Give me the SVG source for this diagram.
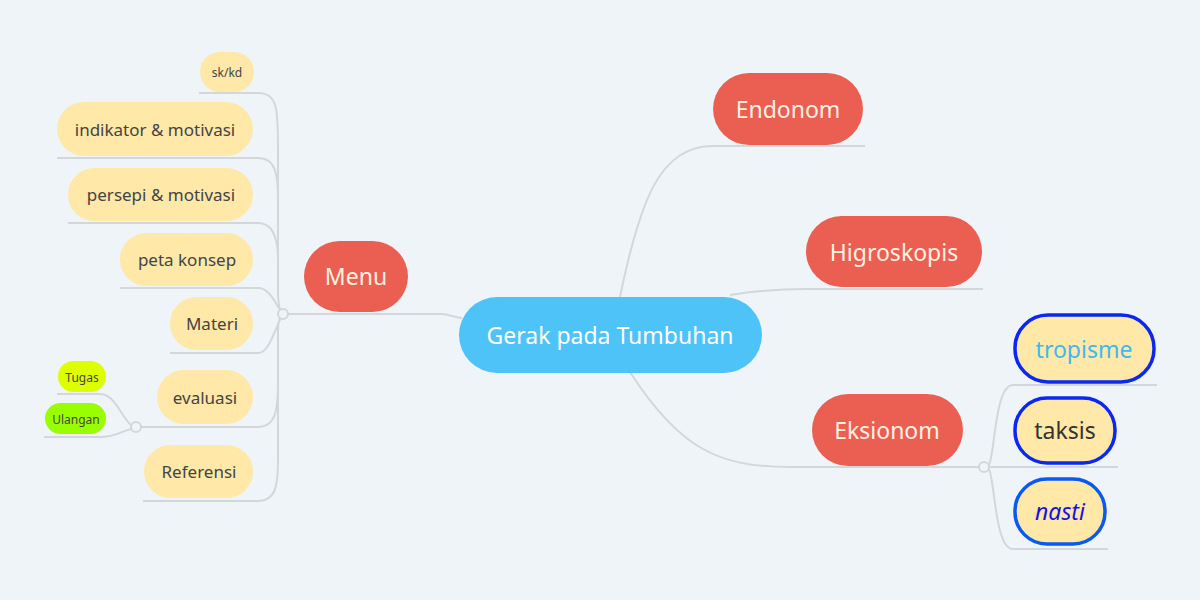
<svg xmlns="http://www.w3.org/2000/svg" width="1200" height="600" viewBox="0 0 1200 600">
<style>
text{font-family:"Noto Sans","Liberation Sans",sans-serif;text-anchor:middle;dominant-baseline:central}
.c{fill:none;stroke:#D3D7DB;stroke-width:2}
.j{fill:#EFF4F8;stroke:#D3D7DB;stroke-width:2}
.red rect{fill:#EB5F52}
.red text{fill:#FFF2E0;font-size:23px}
.leaf rect{fill:#FFE8A8}
.leaf text{fill:#444;font-size:17px}
.bl rect{stroke-width:3.5}
.bl text{font-size:23px}
</style>
<rect width="1200" height="600" fill="#EFF4F8"/>
<g id="connectors">
<path class="c" d="M288,314 H440 C450,314 455,318 462,318"/>
<path class="c" d="M620,297 C640,200 660,146 713,146 H865"/>
<path class="c" d="M730,295 C760,290 780,289 806,289 H983"/>
<path class="c" d="M630,372 C680,450 720,467 790,467 H980"/>
<path class="c" d="M988,467 C995,460 994,385 1013,385 H1157"/>
<path class="c" d="M989,467 H1118"/>
<path class="c" d="M988,467 C995,474 994,549 1013,549 H1108"/>
<path class="c" d="M199,93 H258 C278,93 278,110 278,150 L278,290 C278,305 280,312 283,314"/>
<path class="c" d="M57,158 H258 C276,158 278,175 278,200"/>
<path class="c" d="M68,223 H258 C274,223 278,240 278,260"/>
<path class="c" d="M120,288 H258 C270,288 276,305 283,314"/>
<path class="c" d="M170,353 H258 C270,353 276,325 283,314"/>
<path class="c" d="M141,427 H258 C276,427 278,410 278,380 L278,330 C278,322 280,316 283,314"/>
<path class="c" d="M143,501 H258 C276,501 278,485 278,460 L278,380"/>
<path class="c" d="M57,394 H100 C115,394 122,418 131,425"/>
<path class="c" d="M44,437 H100 C115,437 122,431 131,429"/>
<circle class="j" cx="283" cy="314" r="5"/>
<circle class="j" cx="136" cy="427" r="5"/>
<circle class="j" cx="984" cy="467" r="5"/>
</g>
<g id="central"><rect x="459" y="297" width="303" height="76" rx="38" fill="#4DC3F7"/><text x="610" y="335" fill="#fff" font-size="23">Gerak pada Tumbuhan</text></g>
<g id="menu" class="red"><rect x="304" y="241" width="104" height="71" rx="35.5"/><text x="356" y="276">Menu</text></g>
<g id="endonom" class="red"><rect x="713" y="73" width="150" height="72" rx="36"/><text x="788" y="109">Endonom</text></g>
<g id="higroskopis" class="red"><rect x="806" y="216" width="176" height="71" rx="35.5"/><text x="894" y="252">Higroskopis</text></g>
<g id="eksionom" class="red"><rect x="812" y="394" width="151" height="72" rx="36"/><text x="887" y="430">Eksionom</text></g>
<g id="tropisme" class="leaf bl"><rect x="1015" y="315" width="139" height="67" rx="33" stroke="#0A28F0"/><text x="1084" y="349" style="fill:#40B8F0">tropisme</text></g>
<g id="taksis" class="leaf bl"><rect x="1015" y="398" width="100" height="65" rx="32" stroke="#0A28F0"/><text x="1065" y="430" style="fill:#333">taksis</text></g>
<g id="nasti" class="leaf bl"><rect x="1015" y="479" width="90" height="65" rx="32" stroke="#0A5AF0"/><text x="1060" y="511" font-style="italic" style="fill:#1414E0">nasti</text></g>
<g id="skkd" class="leaf"><rect x="200" y="52" width="54" height="40" rx="20"/><text x="227" y="72" style="font-size:12px">sk/kd</text></g>
<g id="indikator" class="leaf"><rect x="57" y="102" width="196" height="54" rx="27"/><text x="155" y="129">indikator &amp; motivasi</text></g>
<g id="persepi" class="leaf"><rect x="68" y="168" width="185" height="53" rx="26.5"/><text x="161" y="194">persepi &amp; motivasi</text></g>
<g id="peta" class="leaf"><rect x="120" y="233" width="133" height="53" rx="26.5"/><text x="187" y="259">peta konsep</text></g>
<g id="materi" class="leaf"><rect x="170" y="297" width="83" height="53" rx="26.5"/><text x="212" y="323">Materi</text></g>
<g id="evaluasi" class="leaf"><rect x="157" y="370" width="96" height="54" rx="27"/><text x="205" y="397">evaluasi</text></g>
<g id="referensi" class="leaf"><rect x="144" y="445" width="109" height="53" rx="26.5"/><text x="199" y="471">Referensi</text></g>
<g id="tugas"><rect x="58" y="361" width="48" height="31" rx="15.5" fill="#DDFF00"/><text x="82" y="377" font-size="12" fill="#444">Tugas</text></g>
<g id="ulangan"><rect x="45" y="403" width="61" height="31" rx="15.5" fill="#99FF00"/><text x="76" y="419" font-size="12" fill="#444">Ulangan</text></g>
</svg>
